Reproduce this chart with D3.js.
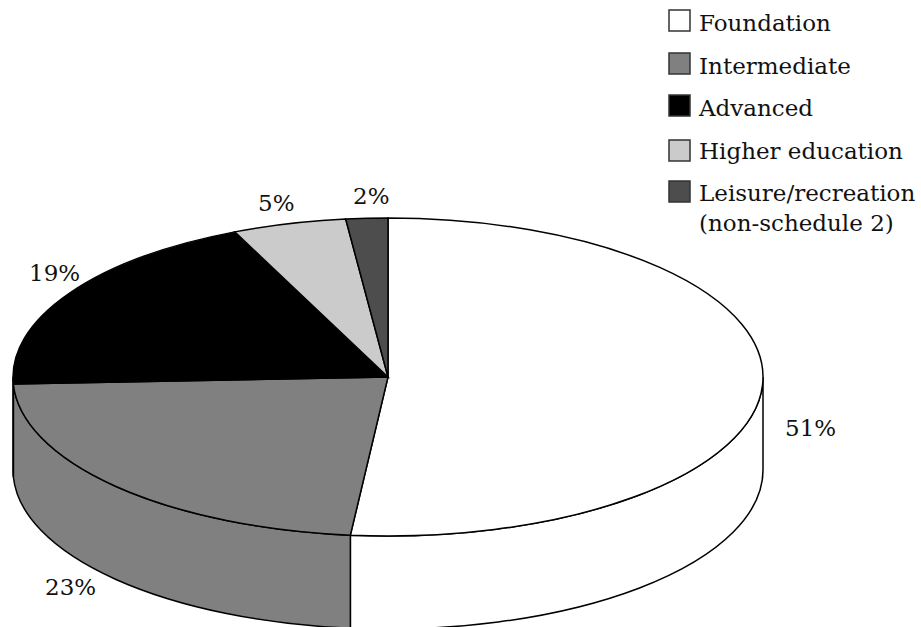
<!DOCTYPE html>
<html>
<head>
<meta charset="utf-8">
<style>
  html, body { margin: 0; background: #fff; }
  svg { display: block; }
  text { font-family: 'DejaVu Serif', serif; font-size: 23px; fill: #111; }
</style>
</head>
<body>
<svg width="921" height="627"></svg>
<script src="https://d3js.org/d3.v7.min.js"></script>
<script>
// slice sizes, labels as printed on it
var categories = ["Foundation", "Intermediate", "Advanced", "Higher education", "Leisure/recreation"];
var shares = [51.6, 22.7, 19.0, 4.9, 1.8];
var shareLabels = ["51%", "23%", "19%", "5%", "2%"];
var colors = ["#ffffff", "#808080", "#000000", "#cbcbcb", "#4d4d4d"];

var svg = d3.select("svg"),
    cx = 388, cy = 377,
    rx = 375, ry = 159,
    depth = 93;

var labelPos = [[785, 436], [45, 595], [29, 281], [258, 211], [353, 204]];
var legendY = [10, 53, 95, 140, 181];
var legendBase = [31, 74, 116, 159, 201];

var pie = d3.pie().sort(null).value(function(d) { return d; });
var slices = pie(shares);

function px(a) { return cx + rx * Math.sin(a); }
function py(a) { return cy - ry * Math.cos(a); }

// side wall, only the part of each slice facing the viewer
function wall(d) {
  var a0 = Math.max(d.startAngle, Math.PI / 2),
      a1 = Math.min(d.endAngle, Math.PI * 3 / 2);
  if (a1 <= a0) return null;
  var arc = " " + rx + " " + ry + " 0 0 ";
  return "M" + px(a0) + "," + py(a0) +
    "A" + arc + "1 " + px(a1) + "," + py(a1) +
    "L" + px(a1) + "," + (py(a1) + depth) +
    "A" + arc + "0 " + px(a0) + "," + (py(a0) + depth) + "Z";
}

svg.append("g").selectAll("path")
    .data(slices.filter(function(d) { return wall(d); }))
    .enter().append("path")
      .attr("d", wall)
      .attr("fill", function(d) { return colors[d.index]; })
      .attr("stroke", "#000")
      .attr("stroke-width", 1.5);

// top face is a circle squashed into an ellipse
var arc = d3.arc().innerRadius(0).outerRadius(rx);

svg.append("g")
    .attr("transform", "translate(" + cx + "," + cy + ") scale(1," + (ry / rx) + ")")
  .selectAll("path")
    .data(slices)
    .enter().append("path")
      .attr("d", arc)
      .attr("fill", function(d) { return colors[d.index]; })
      .attr("stroke", "#000")
      .attr("stroke-width", 1.5)
      .attr("vector-effect", "non-scaling-stroke");

svg.append("g").selectAll("text")
    .data(shareLabels)
    .enter().append("text")
      .attr("x", function(d, i) { return labelPos[i][0]; })
      .attr("y", function(d, i) { return labelPos[i][1]; })
      .text(function(d) { return d; });

var legend = svg.append("g").selectAll("g")
    .data(categories)
    .enter().append("g");

legend.append("rect")
    .attr("x", 669)
    .attr("y", function(d, i) { return legendY[i]; })
    .attr("width", 21)
    .attr("height", 21)
    .attr("fill", function(d, i) { return colors[i]; })
    .attr("stroke", "#333")
    .attr("stroke-width", 1.5);

legend.append("text")
    .attr("x", 699)
    .attr("y", function(d, i) { return legendBase[i]; })
    .text(function(d) { return d; });

svg.append("text")
    .attr("x", 699)
    .attr("y", 231)
    .text("(non-schedule 2)");
</script>
</body>
</html>
